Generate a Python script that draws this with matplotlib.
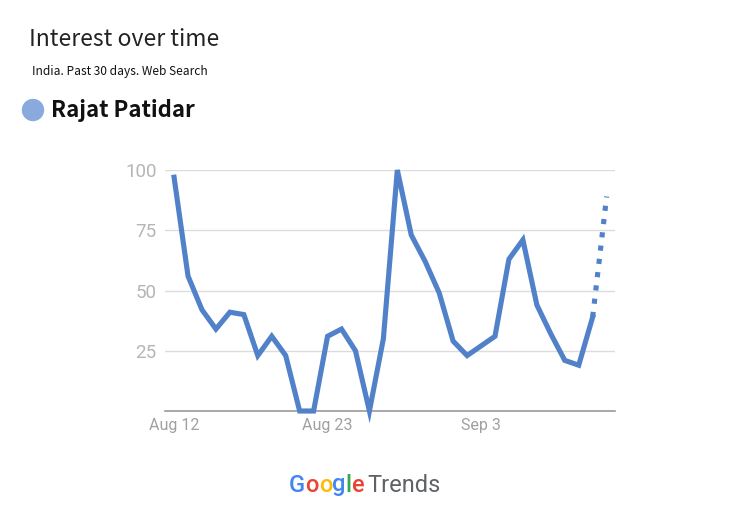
import numpy as np
import pandas as pd
import matplotlib
matplotlib.use('Agg')
import matplotlib.pyplot as plt
import matplotlib.dates as mdates
from matplotlib.patches import Circle

# data
dates = pd.date_range('2021-08-12', '2021-09-12', freq='D')
interest = [97, 56, 42, 34, 41, 40, 23, 31, 23, 0, 0, 31, 34, 25, 0,
            30, 100, 73, 62, 49, 29, 23, 27, 31, 63, 71, 44, 32, 21, 19, 39, 89]
yticks = [25, 50, 75, 100]
xtick_dates = ['2021-08-12', '2021-08-23', '2021-09-03']
xtick_labels = ['Aug 12', 'Aug 23', 'Sep 3']

line_col = '#5181c9'
W, H = 730, 519

fig = plt.figure(figsize=(7.3, 5.19), dpi=100)
fig.patch.set_facecolor('white')

# axes box in pixel coords: left 165, right 615, top 170, bottom 411
ax = fig.add_axes([165 / W, 1 - 411 / H, (615 - 165) / W, (411 - 170) / H])
ax.plot(dates[:-1], interest[:-1], color=line_col, lw=3.7,
        solid_joinstyle='miter', clip_on=False, zorder=3)
ax.plot(dates[-2:], interest[-2:], color=line_col, lw=3.7,
        linestyle=(0, (1.0, 1.6)), clip_on=False, zorder=3)

ax.set_ylim(0, 100)
ax.set_xlim(dates[0] - pd.Timedelta(days=0.65), dates[0] + pd.Timedelta(days=31.6))
ax.set_yticks(yticks)
ax.set_yticklabels([str(v) for v in yticks], fontsize=13.5, color='#b5b5b5',
                   family='Roboto')
ax.set_xticks([mdates.date2num(pd.Timestamp(d)) for d in xtick_dates])
ax.set_xticklabels(xtick_labels, fontsize=11.5, color='#a0a0a0', family='Roboto')
ax.tick_params(axis='y', length=0, pad=6)
ax.tick_params(axis='x', length=0, pad=5)
ax.grid(axis='y', color='#dcdcdc', lw=1)
for s in ['top', 'right', 'left']:
    ax.spines[s].set_visible(False)
ax.spines['bottom'].set_color('#9a9a9a')
ax.spines['bottom'].set_linewidth(1.2)
ax.set_axisbelow(True)

# header texts
fig.text(29 / W, 1 - 39 / H, 'Interest over time', fontsize=16.5, color='#222222',
         family='Noto Sans CJK KR', weight='light', va='center', ha='left')
fig.text(32 / W, 1 - 72 / H, 'India. Past 30 days. Web Search', fontsize=8.6,
         color='#111111', family='Noto Sans CJK KR', va='center', ha='left')
dot = Circle(((33) / 100, (H - 110) / 100), 0.105, transform=fig.dpi_scale_trans,
             color='#8aaadd', zorder=5)
fig.patches.append(dot)
fig.text(51 / W, 1 - 111 / H, 'Rajat Patidar', fontsize=16, color='#111111',
         family='Noto Sans CJK KR', weight='bold', va='center', ha='left')

# Google Trends footer
letters = ['G', 'o', 'o', 'g', 'l', 'e']
gcols = ['#4285F4', '#EA4335', '#FBBC05', '#4285F4', '#34A853', '#EA4335']
fig.canvas.draw()
renderer = fig.canvas.get_renderer()
x = 289
for ch, c in zip(letters, gcols):
    t = fig.text(x / W, 1 - 485 / H, ch, fontsize=17, color=c, family='Roboto',
                 weight='medium', va='center', ha='left')
    x += t.get_window_extent(renderer).width
fig.text((x + 3) / W, 1 - 485 / H, 'Trends', fontsize=17, color='#5f6368',
         family='Roboto', va='center', ha='left')

fig.savefig('out.png', dpi=100, facecolor='white')
